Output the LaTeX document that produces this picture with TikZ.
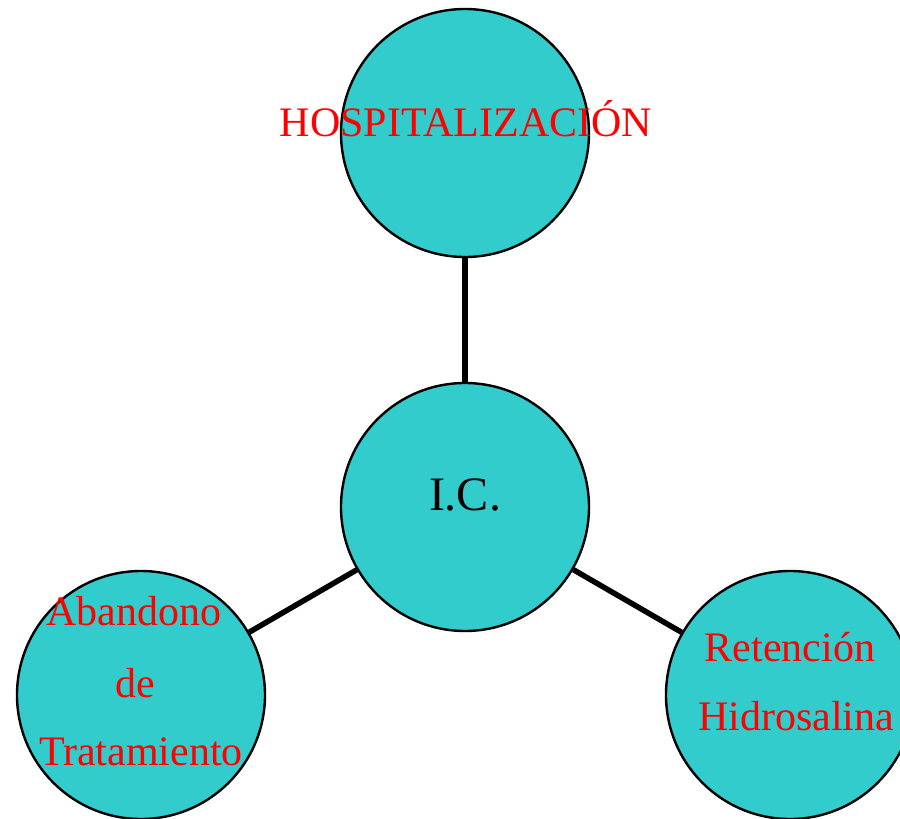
\documentclass[tikz,border=0pt]{standalone}
\usepackage{fontspec}
\setmainfont{Liberation Serif}
\definecolor{teal1}{HTML}{33CCCC}
\definecolor{red1}{HTML}{FF0000}
\begin{document}
\begin{tikzpicture}[x=1pt,y=-1pt,
  bubble/.style={circle,draw=black,line width=2.4pt,fill=teal1,minimum size=248pt,inner sep=0pt},
  link/.style={line width=5.5pt,black},
  lbl/.style={anchor=base,inner sep=0pt,text=red1,font=\fontsize{42}{44}\selectfont}]
\useasboundingbox (0,0) rectangle (900,819);
\clip (0,0) rectangle (900,819);
\node[bubble] (top) at (465,133) {};
\node[bubble] (mid) at (465,507) {};
\node[bubble] (left) at (141,695) {};
\node[bubble] (right) at (790,695) {};
\draw[link] (mid) -- (top);
\draw[link] (mid) -- (left);
\draw[link] (mid) -- (right);
\node[lbl] (t1) at (466,136) {HOSPITALIZACIÓN};
\node[lbl,text=black,font=\fontsize{48}{50}\selectfont] (t2) at (465,510) {I.C.};
\node[lbl] (t3) at (134,625) {Abandono};
\node[lbl] (t4) at (135,697) {de};
\node[lbl] (t5) at (141,765) {Tratamiento};
\node[lbl] (t6) at (790,661) {Retención};
\node[lbl] (t7) at (796,730) {Hidrosalina};
\end{tikzpicture}
\end{document}
